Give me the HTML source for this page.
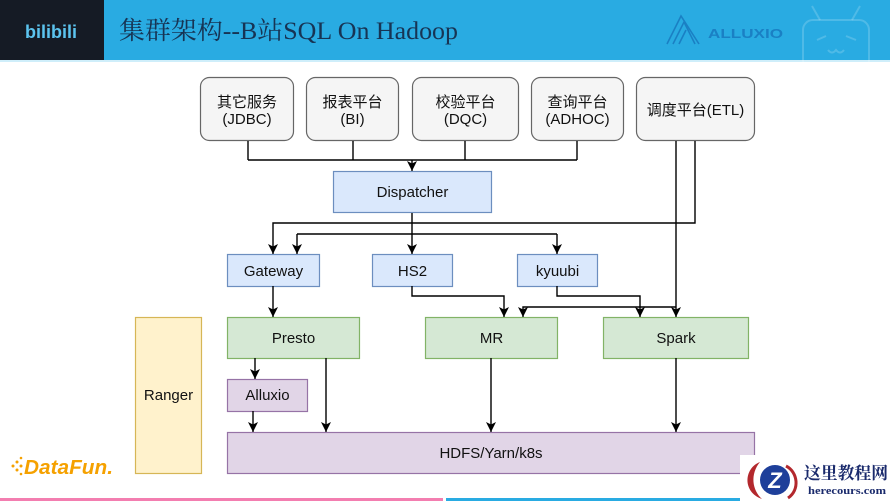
<!DOCTYPE html>
<html>
<head>
<meta charset="utf-8">
<style>
  html,body{margin:0;padding:0;background:#fff;}
  body{width:890px;height:501px;overflow:hidden;}
  svg{display:block;}
  .lbl{font-family:"Liberation Sans","Noto Sans CJK SC",sans-serif;font-size:15px;fill:#111;}
</style>
</head>
<body>
<svg width="890" height="501" viewBox="0 0 890 501" xmlns="http://www.w3.org/2000/svg">
  <defs>
    <marker id="ar" viewBox="0 0 10 10" refX="10" refY="5" markerWidth="10" markerHeight="10" markerUnits="userSpaceOnUse" orient="auto">
      <path d="M0,0 L10,5 L0,10 L2.5,5 z" fill="#000"/>
    </marker>
  </defs>

  <!-- Header -->
  <rect x="0" y="0" width="890" height="60" fill="#29abe2"/>
  <rect x="0" y="0" width="104" height="60" fill="#151b25"/>
  <rect x="0" y="60" width="890" height="2" fill="#cfeefa"/>
  <text x="25" y="38" font-family="Liberation Sans, sans-serif" font-weight="bold" font-size="18" fill="#5cc4ef" textLength="52" lengthAdjust="spacingAndGlyphs">bilibili</text>
  <text x="119" y="39" font-family="Liberation Serif, Noto Serif CJK SC, serif" font-size="25" fill="#173454" textLength="339" lengthAdjust="spacingAndGlyphs">集群架构--B站SQL On Hadoop</text>

  <!-- Alluxio logo -->
  <g fill="none" stroke="#1a80c4" stroke-width="1.6">
    <path d="M667,44 L681,16 L699,44"/>
    <path d="M673,44 L684,22 L695,44"/>
    <path d="M679,44 L686,30"/>
  </g>
  <text x="708" y="38" font-family="Liberation Sans, sans-serif" font-weight="bold" font-size="13" fill="#1a80c4" textLength="75" lengthAdjust="spacingAndGlyphs">ALLUXIO</text>
  <!-- faint TV mascot -->
  <g fill="none" stroke="#ffffff" stroke-opacity="0.18" stroke-width="2">
    <rect x="803" y="20" width="66" height="50" rx="10"/>
    <path d="M820,20 L812,6"/>
    <path d="M852,20 L860,6"/>
    <path d="M817,40 L826,36"/>
    <path d="M846,36 L856,40"/>
    <path d="M828,50 q4,5 8,0 q4,5 8,0"/>
  </g>

  <!-- Top boxes -->
  <g fill="#f5f5f5" stroke="#666" stroke-width="1.2">
    <rect x="200.5" y="77.5" width="93" height="63" rx="9"/>
    <rect x="306.5" y="77.5" width="92" height="63" rx="9"/>
    <rect x="412.5" y="77.5" width="106" height="63" rx="9"/>
    <rect x="531.5" y="77.5" width="92" height="63" rx="9"/>
    <rect x="636.5" y="77.5" width="118" height="63" rx="9"/>
  </g>
  <g class="lbl" text-anchor="middle">
    <text x="247" y="107">其它服务</text>
    <text x="247" y="124">(JDBC)</text>
    <text x="352.5" y="107">报表平台</text>
    <text x="352.5" y="124">(BI)</text>
    <text x="465.5" y="107">校验平台</text>
    <text x="465.5" y="124">(DQC)</text>
    <text x="577.5" y="107">查询平台</text>
    <text x="577.5" y="124">(ADHOC)</text>
    <text x="695.5" y="115">调度平台(ETL)</text>
  </g>

  <!-- Dispatcher -->
  <rect x="333.5" y="171.5" width="158" height="41" fill="#dae8fc" stroke="#6c8ebf" stroke-width="1.2"/>
  <text class="lbl" x="412.5" y="197" text-anchor="middle">Dispatcher</text>

  <!-- Second row blue -->
  <g fill="#dae8fc" stroke="#6c8ebf" stroke-width="1.2">
    <rect x="227.5" y="254.5" width="92" height="32"/>
    <rect x="372.5" y="254.5" width="80" height="32"/>
    <rect x="517.5" y="254.5" width="80" height="32"/>
  </g>
  <g class="lbl" text-anchor="middle">
    <text x="273.5" y="276">Gateway</text>
    <text x="412.5" y="276">HS2</text>
    <text x="557.5" y="276">kyuubi</text>
  </g>

  <!-- Green row -->
  <g fill="#d5e8d4" stroke="#82b366" stroke-width="1.2">
    <rect x="227.5" y="317.5" width="132" height="41"/>
    <rect x="425.5" y="317.5" width="132" height="41"/>
    <rect x="603.5" y="317.5" width="145" height="41"/>
  </g>
  <g class="lbl" text-anchor="middle">
    <text x="293.5" y="343">Presto</text>
    <text x="491.5" y="343">MR</text>
    <text x="676" y="343">Spark</text>
  </g>

  <!-- Ranger -->
  <rect x="135.5" y="317.5" width="66" height="156" fill="#fff2cc" stroke="#d6b656" stroke-width="1.2"/>
  <text class="lbl" x="168.5" y="400" text-anchor="middle">Ranger</text>

  <!-- Alluxio -->
  <rect x="227.5" y="379.5" width="80" height="32" fill="#e1d5e7" stroke="#9673a6" stroke-width="1.2"/>
  <text class="lbl" x="267.5" y="400" text-anchor="middle">Alluxio</text>

  <!-- HDFS -->
  <rect x="227.5" y="432.5" width="527" height="41" fill="#e1d5e7" stroke="#9673a6" stroke-width="1.2"/>
  <text class="lbl" x="491" y="458" text-anchor="middle">HDFS/Yarn/k8s</text>

  <!-- Connectors -->
  <g fill="none" stroke="#000" stroke-width="1.4">
    <path d="M248,141 V160 M353,141 V160 M465,141 V160 M577,141 V160 M248,160 H577"/>
    <path d="M412,160 V171" marker-end="url(#ar)"/>
    <path d="M412,213 V254" marker-end="url(#ar)"/>
    <path d="M297,234 H557"/>
    <path d="M297,234 V254" marker-end="url(#ar)"/>
    <path d="M557,234 V254" marker-end="url(#ar)"/>
    <path d="M695,141 V223 H273 V254" marker-end="url(#ar)"/>
    <path d="M676,141 V317" marker-end="url(#ar)"/>
    <path d="M676,307 H523 V317" marker-end="url(#ar)"/>
    <path d="M273,286 V317" marker-end="url(#ar)"/>
    <path d="M412,286 V296 H504 V317" marker-end="url(#ar)"/>
    <path d="M557,286 V296 H640 V317" marker-end="url(#ar)"/>
    <path d="M255,358 V379" marker-end="url(#ar)"/>
    <path d="M326,358 V432" marker-end="url(#ar)"/>
    <path d="M253,411 V432" marker-end="url(#ar)"/>
    <path d="M491,358 V432" marker-end="url(#ar)"/>
    <path d="M676,358 V432" marker-end="url(#ar)"/>
  </g>

  <!-- Bottom bars -->
  <rect x="0" y="498" width="443" height="3" fill="#f37eb0"/>
  <rect x="446" y="498" width="297" height="3" fill="#29abe2"/>

  <!-- DataFun logo -->
  <g fill="#f5a100">
    <circle cx="13" cy="466" r="1.5"/>
    <circle cx="17" cy="462" r="1.5"/>
    <circle cx="17" cy="470" r="1.5"/>
    <circle cx="21" cy="466" r="1.5"/>
    <circle cx="21" cy="458" r="1.3"/>
    <circle cx="21" cy="474" r="1.3"/>
  </g>
  <text x="24" y="474" font-family="Liberation Sans, sans-serif" font-style="italic" font-weight="bold" font-size="20" fill="#f5a100" textLength="89" lengthAdjust="spacingAndGlyphs">DataFun.</text>

  <!-- Watermark -->
  <rect x="740" y="455" width="150" height="46" fill="#fff"/>
  <path d="M760,462 C744,468 742,492 762,499 C752,490 750,474 760,462 z" fill="#b3282d"/>
  <circle cx="775" cy="480" r="15" fill="#1e3f9a"/>
  <text x="775" y="488" text-anchor="middle" font-family="Liberation Sans, sans-serif" font-weight="bold" font-style="italic" font-size="22" fill="#fff">Z</text>
  <path d="M786,466 C798,472 800,490 788,498" fill="none" stroke="#b3282d" stroke-width="3"/>
  <text x="804" y="479" font-family="Liberation Serif, Noto Serif CJK SC, serif" font-weight="bold" font-size="17" fill="#1a2a6c" textLength="84" lengthAdjust="spacingAndGlyphs">这里教程网</text>
  <text x="808" y="494" font-family="Liberation Serif, serif" font-weight="bold" font-size="11" fill="#1a2a6c" textLength="78" lengthAdjust="spacingAndGlyphs">herecours.com</text>
</svg>
</body>
</html>
